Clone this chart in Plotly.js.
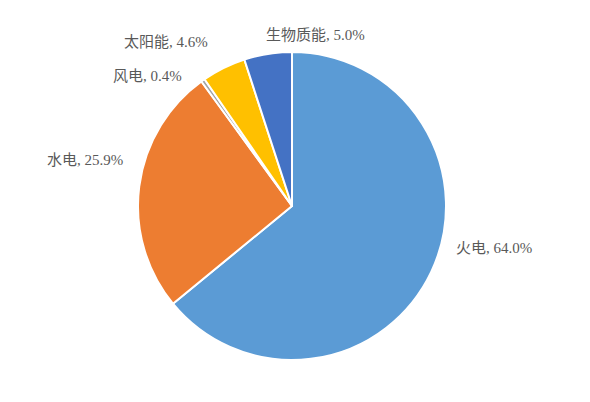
<!DOCTYPE html>
<html>
<head>
<meta charset="utf-8">
<script src="https://cdn.plot.ly/plotly-3.0.1.min.js"></script>
<style>
  html, body { margin: 0; padding: 0; background: #fff; }
  #chart { width: 590px; height: 402px; }
</style>
</head>
<body>
<div id="chart"></div>
<script>
// energy mix, shares in percent
const sources = ['火电', '水电', '风电', '太阳能', '生物质能'];
const shares = [64.0, 25.9, 0.4, 4.6, 5.0];
const sliceColors = ['#5B9BD5', '#ED7D31', '#A5A5A5', '#FFC000', '#4472C4'];

// label centres (paper coords), picked by eye
const labelX = [0.846, 0.146, 0.253, 0.284, 0.541];
const labelY = [0.364, 0.649, 0.922, 1.032, 1.055];

const labelFont = { family: 'Liberation Serif, Noto Sans CJK SC, serif', size: 15, color: '#595959' };

const trace = {
  type: 'pie',
  labels: sources,
  values: shares,
  sort: false,
  direction: 'clockwise',
  rotation: 0,
  textinfo: 'none',
  hoverinfo: 'label+value',
  marker: { colors: sliceColors, line: { color: '#fff', width: 2 } },
  showlegend: false
};

const annotations = sources.map((s, i) => ({
  xref: 'paper', yref: 'paper',
  x: labelX[i], y: labelY[i],
  xanchor: 'center', yanchor: 'middle',
  text: s + ', ' + shares[i].toFixed(1) + '%',
  showarrow: false,
  font: labelFont
}));

Plotly.newPlot('chart', [trace], {
  width: 590,
  height: 402,
  margin: { l: 0, r: 6, t: 52, b: 42 },
  paper_bgcolor: '#fff',
  annotations: annotations
}, { staticPlot: true });
</script>
</body>
</html>
